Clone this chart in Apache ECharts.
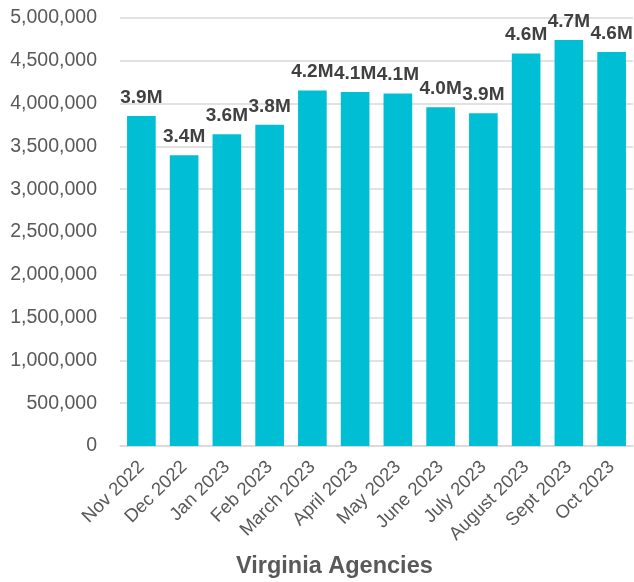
<!DOCTYPE html>
<html lang="en" style="height: 100%">
<head>
  <meta charset="utf-8">
</head>
<body style="height: 100%; margin: 0; background: #ffffff">
  <div id="container" style="width: 634px; height: 582px"></div>

  <script type="text/javascript" src="https://fastly.jsdelivr.net/npm/echarts@6.0.0/dist/echarts.min.js"></script>
  <script type="text/javascript">
const months = ['Nov 2022', 'Dec 2022', 'Jan 2023', 'Feb 2023', 'March 2023', 'April 2023',
  'May 2023', 'June 2023', 'July 2023', 'August 2023', 'Sept 2023', 'Oct 2023'];
const agencyCounts = [3856000, 3396000, 3642000, 3752000, 4152000, 4136000,
  4117000, 3957000, 3887000, 4584000, 4743000, 4603000];
const yTicks = { min: 0, max: 5000000, interval: 500000 };

var dom = document.getElementById('container');
var myChart = echarts.init(dom, null, { renderer: 'canvas' });

var option = {
  animation: false,
  title: {
    text: 'Virginia Agencies',
    left: 236,
    top: 555,
    padding: 0,
    textStyle: {
      fontFamily: 'Liberation Sans',
      fontSize: 23.5,
      fontWeight: 'bold',
      color: '#595959'
    }
  },
  grid: {
    left: 120,
    right: 1,
    top: 18,
    bottom: 136
  },
  xAxis: {
    type: 'category',
    data: months,
    axisLine: { lineStyle: { color: '#d9d9d9', width: 1.5 } },
    axisTick: { show: false },
    axisLabel: {
      interval: 0,
      rotate: 45,
      margin: 18,
      fontFamily: 'Liberation Sans',
      fontSize: 18.5,
      color: '#595959'
    }
  },
  yAxis: {
    type: 'value',
    min: yTicks.min,
    max: yTicks.max,
    interval: yTicks.interval,
    axisLine: { show: false },
    axisTick: { show: false },
    splitLine: { lineStyle: { color: '#d9d9d9', width: 1.5 } },
    axisLabel: {
      margin: 23,
      fontFamily: 'Liberation Sans',
      fontSize: 19.5,
      color: '#595959',
      formatter: function (v) {
        return v.toLocaleString('en-US');
      }
    }
  },
  series: [
    {
      type: 'bar',
      data: agencyCounts,
      barCategoryGap: '33%',
      itemStyle: { color: '#00BFD4' },
      label: {
        show: true,
        position: 'top',
        distance: 9,
        fontFamily: 'Liberation Sans',
        fontSize: 19,
        fontWeight: 'bold',
        color: '#404040',
        formatter: function (p) {
          return (p.value / 1000000).toFixed(1) + 'M';
        }
      }
    }
  ]
};

myChart.setOption(option);
window.addEventListener('resize', myChart.resize);
  </script>
</body>
</html>
